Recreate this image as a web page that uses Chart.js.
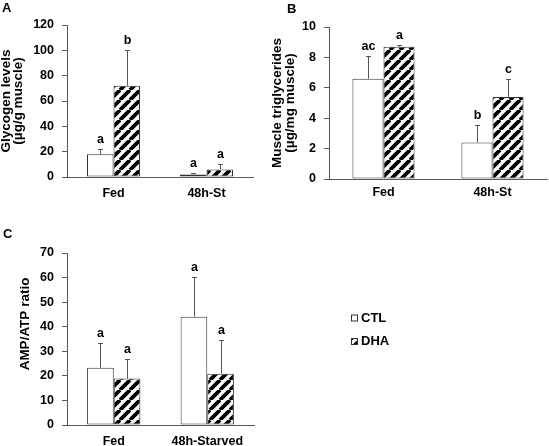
<!DOCTYPE html>
<html lang="en">
<head>
<meta charset="UTF-8">
<title>Glycogen, triglycerides and AMP/ATP</title>
<script src="https://cdn.jsdelivr.net/npm/chart.js@4.4.0"></script>
<style>
  body { margin: 0; background: #fff; }
  #wrap { position: relative; width: 549px; height: 446px; }
  canvas { position: absolute; }
</style>
</head>
<body>
<div id="wrap">
  <canvas id="chartA" width="270" height="200" style="left:0;top:0"></canvas>
  <canvas id="chartB" width="279" height="200" style="left:270px;top:0"></canvas>
  <canvas id="chartC" width="549" height="246" style="left:0;top:200px"></canvas>
</div>
<script>
// ---- data ----
const groupsShort = ['Fed', '48h-St'];
const groupsLong = ['Fed', '48h-Starved'];
const seriesNames = ['CTL', 'DHA'];

// A: glycogen (ug/g muscle), mean and SD
const glycogenCTL = [18, 2];
const glycogenDHA = [72, 6];
const glycogenCTLsd = [4, 0.8];
const glycogenDHAsd = [28, 4];
const glycogenCTLsig = ['a', 'a'];
const glycogenDHAsig = ['b', 'a'];

// B: muscle triglycerides (ug/mg muscle)
const trigCTL = [6.6, 2.4];
const trigDHA = [8.7, 5.4];
const trigCTLsd = [1.5, 1.15];
const trigDHAsd = [0.14, 1.17];
const trigCTLsig = ['ac', 'b'];
const trigDHAsig = ['a', 'c'];

// C: AMP/ATP ratio
const ampCTL = [23.3, 44.1];
const ampDHA = [18.9, 20.9];
const ampCTLsd = [10.2, 16];
const ampDHAsd = [8, 13.6];
const ampCTLsig = ['a', 'a'];
const ampDHAsig = ['a', 'a'];

const FONT = "'Liberation Sans', Arial, sans-serif";
Chart.defaults.font.family = FONT;
Chart.defaults.font.weight = 'bold';
Chart.defaults.color = '#000';

// diagonal hatch used for the DHA bars
function hatch() {
    const c = document.createElement('canvas');
    c.width = 10; c.height = 10;
    const g = c.getContext('2d');
    g.fillStyle = '#fff';
    g.fillRect(0, 0, 10, 10);
    g.strokeStyle = '#000';
    g.lineWidth = 3.8;
    g.beginPath();
    for (const k of [-10, 0, 10]) { g.moveTo(k, 10); g.lineTo(k + 10, 0); }
    g.stroke();
    return g.createPattern(c, 'repeat');
}
const stripes = hatch();

// one-sided SD bars plus the significance letters
const errorBars = {
    id: 'errorBars',
    afterDatasetsDraw(chart) {
        const ctx = chart.ctx, y = chart.scales.y;
        chart.data.datasets.forEach((ds, i) => {
            chart.getDatasetMeta(i).data.forEach((bar, j) => {
                const top = Math.round(y.getPixelForValue(ds.data[j] + ds.sd[j])) + 0.5;
                const x = Math.round(bar.x) + 0.5;
                ctx.save();
                ctx.strokeStyle = '#555';
                ctx.lineWidth = 1;
                ctx.beginPath();
                ctx.moveTo(x, bar.y); ctx.lineTo(x, top);
                ctx.moveTo(x - 2.5, top); ctx.lineTo(x + 2.5, top);
                ctx.stroke();
                ctx.fillStyle = '#000';
                ctx.font = 'bold 12.5px ' + FONT;
                ctx.textAlign = 'center';
                ctx.textBaseline = 'alphabetic';
                ctx.fillText(ds.sig[j], x, top - 7);
                ctx.restore();
            });
        });
    }
};

// panel letter and (for C) the free-standing legend
const extras = {
    id: 'extras',
    afterDraw(chart, args, opts) {
        const ctx = chart.ctx;
        ctx.save();
        ctx.fillStyle = '#000';
        ctx.font = 'bold 13px ' + FONT;
        ctx.textBaseline = 'middle';
        ctx.fillText(opts.letter, opts.lx, opts.ly);
        if (opts.legend) {
            const L = opts.legend;
            chart.data.datasets.forEach((ds, i) => {
                const yy = L.y + i * L.gap;
                ctx.fillStyle = ds.backgroundColor;
                ctx.fillRect(L.x, yy - 3.5, 7, 7);
                ctx.strokeStyle = '#333';
                ctx.lineWidth = 1;
                ctx.strokeRect(L.x + 0.5, yy - 3.5 + 0.5, 6, 6);
                ctx.fillStyle = '#000';
                ctx.fillText(ds.label, L.x + 10, yy);
            });
        }
        ctx.restore();
    }
};

function makeChart(id, o) {
    return new Chart(document.getElementById(id), {
        type: 'bar',
        data: {
            labels: o.labels,
            datasets: [
                { label: seriesNames[0], data: o.ctl, sd: o.ctlSd, sig: o.ctlSig, backgroundColor: '#fff' },
                { label: seriesNames[1], data: o.dha, sd: o.dhaSd, sig: o.dhaSig, backgroundColor: stripes }
            ]
        },
        options: {
            responsive: false,
            animation: false,
            layout: { padding: o.pad },
            datasets: {
                bar: {
                    borderColor: '#333',
                    borderWidth: 1,
                    borderSkipped: false,
                    categoryPercentage: 0.57,
                    barPercentage: 1
                }
            },
            scales: {
                x: {
                    grid: { display: false, drawTicks: false, tickLength: 0 },
                    border: { color: '#595959' },
                    ticks: { padding: o.xPad, font: { size: 12.5 } },
                    afterFit: s => { s.height = o.xH; }
                },
                y: {
                    min: 0, max: o.max,
                    ticks: { stepSize: o.step, padding: 8, font: { size: 12.5 } },
                    grid: { drawOnChartArea: false, tickLength: 5, color: '#595959' },
                    border: { color: '#595959' },
                    title: {
                        display: true,
                        text: o.title,
                        padding: { top: o.titlePad, bottom: 0 },
                        font: { size: 13.5, lineHeight: o.titleLH }
                    },
                    afterFit: s => { s.width = o.yW; }
                }
            },
            plugins: {
                legend: { display: false },
                tooltip: { enabled: false },
                extras: o.extras
            }
        },
        plugins: [errorBars, extras]
    });
}

makeChart('chartA', {
    labels: groupsShort, ctl: glycogenCTL, dha: glycogenDHA,
    ctlSd: glycogenCTLsd, dhaSd: glycogenDHAsd, ctlSig: glycogenCTLsig, dhaSig: glycogenDHAsig,
    max: 120, step: 20,
    title: ['Glycogen levels', '(\u00b5g/g muscle)'], titleLH: '11.5px', titlePad: 0,
    pad: { left: 1, right: 17, top: 25, bottom: 0 }, yW: 66, xH: 23, xPad: 9.5,
    extras: { letter: 'A', lx: 2, ly: 8 }
});

makeChart('chartB', {
    labels: groupsShort, ctl: trigCTL, dha: trigDHA,
    ctlSd: trigCTLsd, dhaSd: trigDHAsd, ctlSig: trigCTLsig, dhaSig: trigDHAsig,
    max: 10, step: 2,
    title: ['Muscle triglycerides', '(\u00b5g/mg muscle)'], titleLH: '13px', titlePad: 0,
    pad: { left: 1, right: 2, top: 27, bottom: 0 }, yW: 58, xH: 21, xPad: 6.5,
    extras: { letter: 'B', lx: 17, ly: 9 }
});

makeChart('chartC', {
    labels: groupsLong, ctl: ampCTL, dha: ampDHA,
    ctlSd: ampCTLsd, dhaSd: ampDHAsd, ctlSig: ampCTLsig, dhaSig: ampDHAsig,
    max: 70, step: 10,
    title: '\u00a0'.repeat(8) + 'AMP/ATP ratio', titleLH: '13.5px', titlePad: 18,
    pad: { left: 1, right: 295, top: 53, bottom: 0 }, yW: 66, xH: 21, xPad: 9.5,
    extras: { letter: 'C', lx: 3, ly: 34, legend: { x: 351, y: 118, gap: 23.5 } }
});
</script>
</body>
</html>
